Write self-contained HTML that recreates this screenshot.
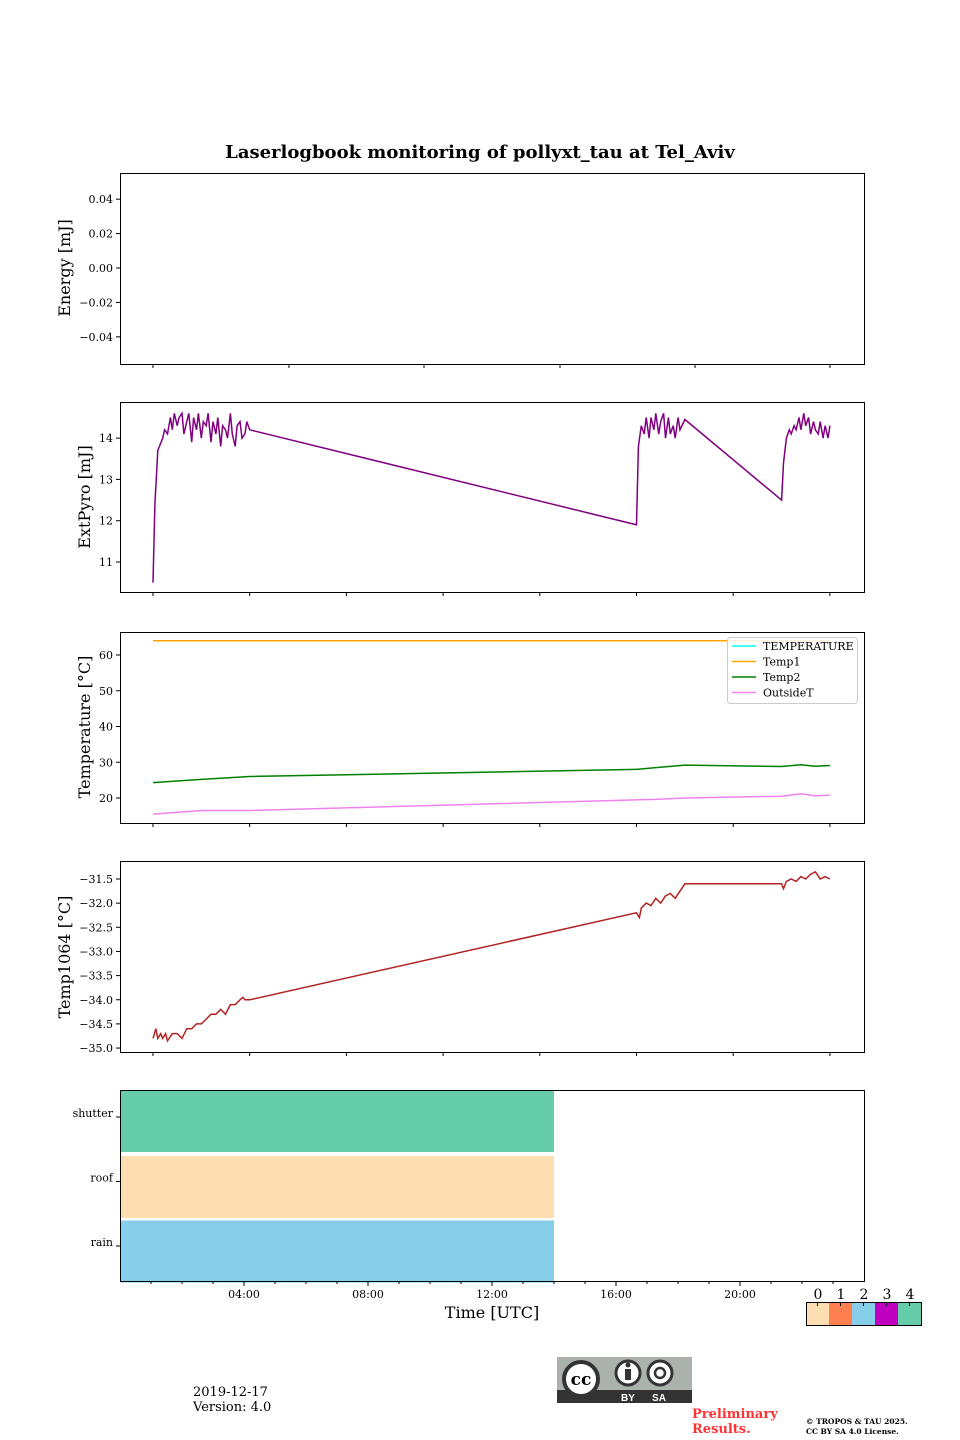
<!DOCTYPE html>
<html><head><meta charset="utf-8"><style>
body{margin:0;background:#fff;}
svg{display:block;font-family:"DejaVu Serif","Liberation Serif",serif;}
</style></head><body>
<svg id="fig" width="960" height="1440" viewBox="0 0 960 1440" xmlns="http://www.w3.org/2000/svg">
<text x="480" y="158" text-anchor="middle" font-size="18" font-weight="bold">Laserlogbook monitoring of pollyxt_tau at Tel_Aviv</text>
<g id="g"></g>
</svg>
<script>
// ---- data ----
const pyroX = [0,0.02,0.05,0.1,0.12,0.15,0.18,0.2,0.22,0.25,0.27,0.3,0.32,0.35,0.37,0.4,0.42,0.45,0.47,0.5,0.52,0.55,0.57,0.6,0.62,0.65,0.67,0.7,0.72,0.75,0.77,0.8,0.82,0.85,0.87,0.9,0.92,0.95,0.97,1.0,5.0,5.02,5.05,5.08,5.1,5.13,5.15,5.18,5.2,5.23,5.25,5.28,5.3,5.33,5.35,5.38,5.4,5.43,5.45,5.5,6.5,6.52,6.55,6.58,6.6,6.63,6.65,6.68,6.7,6.73,6.75,6.78,6.8,6.83,6.85,6.88,6.9,6.93,6.95,6.98,7.0];
const pyroY = [10.5,12.4,13.7,14.0,14.2,14.1,14.5,14.2,14.6,14.3,14.5,14.6,14.1,14.4,14.6,13.9,14.5,14.2,14.6,14.0,14.4,14.3,14.6,13.9,14.4,14.1,14.5,13.8,14.3,14.2,14.0,14.6,14.1,13.8,14.3,14.4,14.0,14.1,14.4,14.2,11.9,13.8,14.3,14.1,14.5,14.0,14.5,14.2,14.6,14.1,14.4,14.6,14.0,14.5,14.1,14.3,14.0,14.5,14.2,14.45,12.5,13.4,14.0,14.2,14.1,14.3,14.2,14.5,14.2,14.6,14.3,14.5,14.1,14.4,14.2,14.1,14.4,14.0,14.3,14.0,14.3];
const tX = [0,0.5,1.0,5.0,5.2,5.5,6.5,6.7,6.85,7.0];
const temp1 = [64,64,64,64,64,64,64,64,64,64];
const temp2 = [24.3,25.2,26,28,28.5,29.2,28.8,29.3,28.9,29.1];
const outsideT = [15.5,16.5,16.5,19.5,19.6,20,20.5,21.2,20.6,20.8];
const t1064X = [0,0.03,0.05,0.08,0.1,0.13,0.15,0.2,0.25,0.3,0.35,0.4,0.45,0.5,0.55,0.6,0.65,0.7,0.75,0.8,0.85,0.9,0.93,0.95,1.0,5.0,5.03,5.05,5.1,5.15,5.2,5.25,5.3,5.35,5.4,5.45,5.5,6.5,6.52,6.55,6.6,6.65,6.7,6.75,6.8,6.85,6.9,6.95,7.0];
const t1064Y = [-34.8,-34.6,-34.8,-34.7,-34.8,-34.7,-34.85,-34.7,-34.7,-34.8,-34.6,-34.6,-34.5,-34.5,-34.4,-34.3,-34.3,-34.2,-34.3,-34.1,-34.1,-34.0,-33.95,-34.0,-34.0,-32.2,-32.3,-32.1,-32.0,-32.05,-31.9,-32.0,-31.85,-31.8,-31.9,-31.75,-31.6,-31.6,-31.7,-31.55,-31.5,-31.55,-31.45,-31.5,-31.4,-31.35,-31.5,-31.45,-31.5];
const statusRows = ['shutter','roof','rain'];
const statusEnd = [14,14,14];
const statusColors = ['#66cdaa','#fddeb0','#87ceeb'];
const energyTicks = [0.04,0.02,0.00,-0.02,-0.04];
const pyroTicks = [11,12,13,14];
const tempTicks = [20,30,40,50,60];
const t1064Ticks = [-31.5,-32.0,-32.5,-33.0,-33.5,-34.0,-34.5,-35.0];
const timeTicks = ['04:00','08:00','12:00','16:00','20:00'];
const cbarLabels = ['0','1','2','3','4'];
const cbarColors = ['#fddeb0','#ff7f50','#87ceeb','#bf00bf','#66cdaa'];

const NS='http://www.w3.org/2000/svg';
const G=document.getElementById('g');
function el(t,a,p){const e=document.createElementNS(NS,t);for(const k in a)e.setAttribute(k,a[k]);(p||G).appendChild(e);return e;}
function txt(x,y,s,fs,anchor,p){const e=el('text',{x:x,y:y,'font-size':fs,'text-anchor':anchor||'end'},p);e.textContent=s;return e;}
const ux = u => 153 + u*96.7;
function frame(y0,y1,name){
  const r=el('rect',{x:120.5,y:y0+0.5,width:744,height:y1-y0,fill:'none',stroke:'#000','stroke-width':1});
  
  
}
function yTicks(vals,fy,fmt){vals.forEach(v=>{const y=fy(v);el('line',{x1:116,x2:120,y1:y,y2:y,stroke:'#000'});const t=txt(113,y+4,fmt(v),11);});}
function xTicksU(y){for(let i=0;i<=7;i++){el('line',{x1:ux(i),x2:ux(i),y1:y,y2:y+4,stroke:'#000'});}}
function ylabel(x,y,s,name){const t=txt(0,0,s,16,'middle');t.setAttribute('transform',`translate(${x},${y}) rotate(-90)`);}
function line(xs,ys,fy,col,name){const d=xs.map((u,i)=>(i?'L':'M')+ux(u).toFixed(1)+','+fy(ys[i]).toFixed(1)).join('');const p=el('path',{d:d,fill:'none',stroke:col,'stroke-width':1.5});}

// Panel 1 energy
frame(173,364,'energy-axes');
const fyE=v=>268-v*1721;
yTicks(energyTicks,fyE,v=>(v<0?'\u2212':'')+Math.abs(v).toFixed(2));
[153,289,424,560,695,830].forEach(x=>el('line',{x1:x,x2:x,y1:364,y2:368,stroke:'#000'}));
ylabel(70,268,'Energy [mJ]','energy-y-title');

// Panel 2 pyro
frame(402,592,'extpyro-axes');
const fyP=v=>562-(v-11)*41.3;
yTicks(pyroTicks,fyP,v=>String(v));
xTicksU(592);
ylabel(90,497,'ExtPyro [mJ]','extpyro-y-title');
line(pyroX,pyroY,fyP,'#800080','extpyro-line');

// Panel 3 temperature
frame(632,823,'temperature-axes');
const fyT=v=>798-(v-20)*3.575;
yTicks(tempTicks,fyT,v=>String(v));
xTicksU(823);
ylabel(90,727,'Temperature [°C]','temperature-y-title');
line(tX,temp1,fyT,'#ffa500','temp1-line');
line(tX,temp2,fyT,'#008000','temp2-line');
line(tX,outsideT,fyT,'#ee82ee','outsidet-line');
const lg=el('g',{});
el('rect',{x:727.5,y:637.5,width:130,height:66,rx:3,fill:'#fff','fill-opacity':0.85,stroke:'#ccc'},lg);
[['TEMPERATURE','#00ffff'],['Temp1','#ffa500'],['Temp2','#008000'],['OutsideT','#ee82ee']].forEach((e,i)=>{
  const y=646+i*15.5;
  el('line',{x1:732,x2:756,y1:y,y2:y,stroke:e[1],'stroke-width':1.5},lg);
  const t=txt(763,y+4,e[0],11,'start',lg);
});

// Panel 4 temp1064
frame(861,1052,'temp1064-axes');
const fyL=v=>879+(-31.5-v)*48.3;
yTicks(t1064Ticks,fyL,v=>'\u2212'+Math.abs(v).toFixed(1));
xTicksU(1052);
ylabel(70,957,'Temp1064 [°C]','temp1064-y-title');
line(t1064X,t1064Y,fyL,'#b22222','temp1064-line');

// Panel 5 status
const hx=h=>120+h*31;
statusRows.forEach((r,i)=>{
  const y0=1090+i*64.5;
  const b=el('rect',{x:120,y:y0+(i?1.5:0),width:hx(statusEnd[i])-120,height:62,fill:statusColors[i]});
  
  const yc=y0+31;
  el('line',{x1:116,x2:120,y1:yc-4,y2:yc-4,stroke:'#000'});
  const t=txt(113,yc-4,r,11);
});
frame(1090,1281,'status-axes');
timeTicks.forEach((s,i)=>{const x=hx(4*(i+1));el('line',{x1:x,x2:x,y1:1282,y2:1286,stroke:'#000'});const t=txt(x,1298,s,11,'middle');});
for(let h=1;h<24;h++){if(h%4)el('line',{x1:hx(h),x2:hx(h),y1:1282,y2:1284,stroke:'#000'});}
const xt=txt(492,1318,'Time [UTC]',16,'middle');

// colorbar
cbarColors.forEach((c,i)=>{const r=el('rect',{x:806+i*23,y:1302,width:23,height:23,fill:c});
 el('line',{x1:817.5+i*23,x2:817.5+i*23,y1:1302,y2:1306,stroke:'#000'});
 const t=txt(818+i*23,1299,cbarLabels[i],14,'middle');});
el('rect',{x:806.5,y:1302.5,width:115,height:23,fill:'none',stroke:'#000'});

// footer
const d1=txt(193,1396,'2019-12-17',13,'start');
const d2=txt(193,1411,'Version: 4.0',13,'start');
const cc=el('g',{});
el('rect',{x:557,y:1357,width:135,height:46,fill:'#aab2ab'},cc);
el('rect',{x:557,y:1390,width:135,height:13,fill:'#333'},cc);
el('circle',{cx:581,cy:1379,r:17,fill:'#fff',stroke:'#333','stroke-width':4},cc);
txt(581,1385,'cc',17,'middle',cc).setAttribute('font-weight','bold');
el('circle',{cx:628,cy:1373,r:12,fill:'#fff',stroke:'#333','stroke-width':3},cc);
el('circle',{cx:660,cy:1373,r:12,fill:'#fff',stroke:'#333','stroke-width':3},cc);
el('rect',{x:625,y:1369,width:6,height:11,fill:'#333'},cc);
el('circle',{cx:628,cy:1365,r:2.5,fill:'#333'},cc);
el('circle',{cx:660,cy:1373,r:5,fill:'none',stroke:'#333','stroke-width':2.5},cc);
const by=txt(628,1401,'BY',10,'middle',cc);by.setAttribute('fill','#fff');by.setAttribute('font-family','Liberation Sans, sans-serif');by.setAttribute('font-weight','bold');
const sa=txt(659,1401,'SA',10,'middle',cc);sa.setAttribute('fill','#fff');sa.setAttribute('font-family','Liberation Sans, sans-serif');sa.setAttribute('font-weight','bold');
['Preliminary','Results.'].forEach((s,i)=>{const t=txt(692,1418+i*15,s,13,'start');t.setAttribute('fill','#ff3333');t.setAttribute('font-weight','bold');});
['© TROPOS & TAU 2025.','CC BY SA 4.0 License.'].forEach((s,i)=>{const t=txt(806,1424+i*10,s,7.5,'start');t.setAttribute('font-weight','bold');});
</script>
</body></html>
